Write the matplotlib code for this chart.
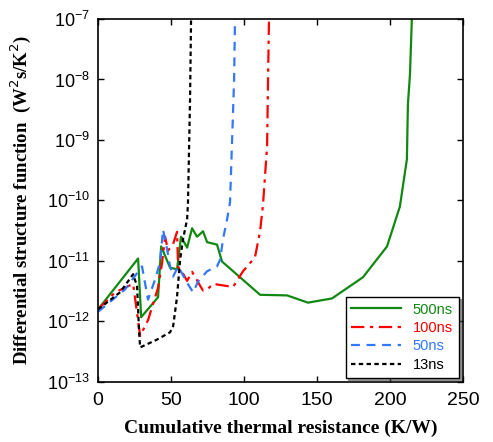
import numpy as np
import matplotlib
matplotlib.use('Agg')
import matplotlib.pyplot as plt

plt.rcParams['font.family'] = ['Liberation Sans', 'DejaVu Sans']

# 500ns
x500 = [0, 27.4, 29.5, 41.1, 43.2, 49.3, 54.1, 56.8, 61.0, 64.4, 67.8, 71.9, 74.7,
        81.5, 84.9, 111, 129.5, 143.8, 160.3, 181.5, 198, 206.8, 211.6, 212.3, 213.7, 215]
ly500 = [-11.8, -10.96, -11.93, -11.60, -10.76, -11.11, -11.14, -10.60, -10.78, -10.46,
         -10.60, -10.51, -10.69, -10.73, -11.01, -11.56, -11.57, -11.69, -11.62, -11.27,
         -10.76, -10.10, -9.32, -8.41, -7.92, -7.0]
# 100ns
x100 = [0, 11.6, 24, 28.8, 34.2, 41, 43.8, 45.9, 47.9, 51.4, 54.1, 54.8, 58.2, 61, 64.4,
        69.9, 71.9, 75.3, 78.8, 92.5, 99.3, 107.5, 111, 113, 115.8, 116.4, 117.1]
ly100 = [-11.8, -11.52, -11.38, -12.24, -11.98, -11.45, -11.04, -10.60, -10.83, -10.72,
         -10.52, -11.1, -11.21, -11.33, -11.18, -11.41, -11.49, -11.46, -11.38, -11.43,
         -11.17, -10.94, -10.51, -10.07, -9.10, -8.08, -7.0]
# 50ns
x50 = [0, 18.5, 30.1, 34.2, 39, 42.5, 44.5, 47.3, 49.3, 51.4, 54.8, 61, 65.1, 68.5,
       74.7, 81.5, 83.6, 85.6, 88.4, 90.4, 91.8, 93.2, 93.8]
ly50 = [-11.84, -11.47, -11.09, -11.64, -11.31, -11.02, -10.48, -10.81, -11.09, -11.26,
        -11.09, -11.36, -11.52, -11.34, -11.17, -11.09, -10.98, -10.64, -10.31, -10.03,
        -9.02, -8.0, -7.0]
# 13ns
x13 = [0, 15, 24, 26.7, 28.1, 28.8, 40.4, 49.3, 51.4, 52.7, 54.1, 56.2, 58.2, 61,
       61.6, 63, 63.7]
ly13 = [-11.8, -11.52, -11.22, -11.42, -12.18, -12.43, -12.30, -12.18, -12.08, -11.85,
        -11.59, -10.98, -10.64, -10.31, -10.03, -8.33, -7.0]

fig = plt.figure(figsize=(4.93, 4.42), dpi=100)
ax = fig.add_axes([0.199, 0.136, 0.74, 0.821])

ax.plot(x500, 10.0**np.array(ly500), color='#118811', lw=1.6, label='500ns')
ax.plot(x100, 10.0**np.array(ly100), color='#ff0000', lw=1.6, ls=(0, (6, 2.5, 1.5, 2.5)), label='100ns')
ax.plot(x50, 10.0**np.array(ly50), color='#3377ff', lw=1.6, ls=(0, (4, 3)), label='50ns')
ax.plot(x13, 10.0**np.array(ly13), color='black', lw=1.6, ls=(0, (2, 1.5)), label='13ns')

ax.set_yscale('log')
ax.set_xlim(0, 250)
ax.set_ylim(1e-13, 1e-7)
ax.set_xticks([0, 50, 100, 150, 200, 250])
ax.set_yticks([10.0**k for k in range(-13, -6)])
ax.minorticks_off()
ax.tick_params(direction='in', top=True, right=True, length=4, width=1)
ax.tick_params(axis='x', labelsize=14, pad=7)
ax.tick_params(axis='y', labelsize=13, pad=6)
for s in ax.spines.values():
    s.set_linewidth(1.2)

ax.set_xlabel('Cumulative thermal resistance (K/W)', family='Liberation Serif',
              fontweight='bold', fontsize=14, labelpad=8)
ax.set_ylabel('Differential structure function  (W$^2$s/K$^2$)', family='Liberation Serif',
              fontweight='bold', fontsize=13.5, labelpad=10)

leg = ax.legend(loc='lower right', fontsize=10.5, frameon=True, fancybox=False, shadow=True,
                handlelength=3.4, borderaxespad=0.3, labelspacing=0.3)
leg.get_frame().set_edgecolor('black')
for txt, ln in zip(leg.get_texts(), leg.get_lines()):
    txt.set_color(ln.get_color())

fig.savefig('out.png', dpi=100)
